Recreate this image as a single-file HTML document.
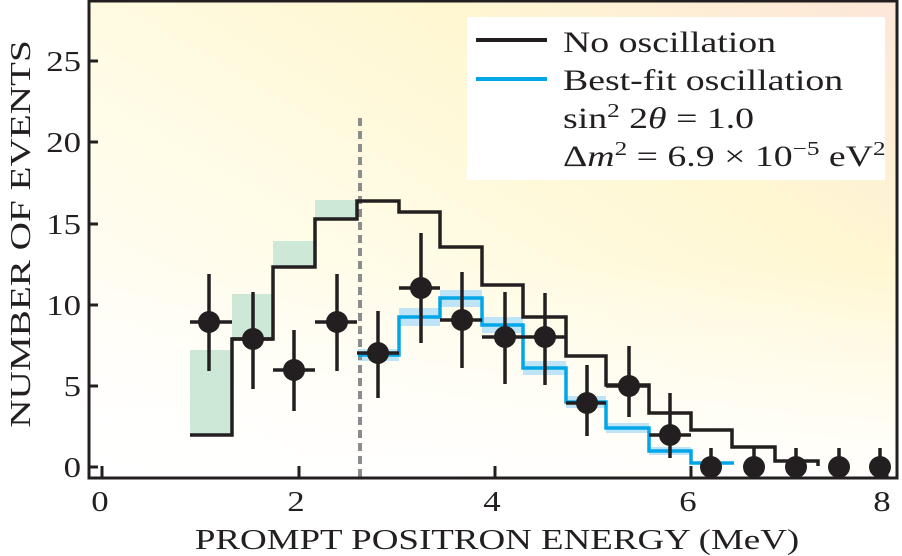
<!DOCTYPE html>
<html><head><meta charset="utf-8"><style>
html,body{margin:0;padding:0;background:#fff;width:902px;height:556px;overflow:hidden}
svg text{font-family:"Liberation Serif",serif;fill:#231f20}
</style></head><body>
<svg width="902" height="556" viewBox="0 0 902 556" xmlns="http://www.w3.org/2000/svg">
<defs>
<linearGradient id="bg" x1="0" y1="1" x2="1" y2="0">
<stop offset="0" stop-color="#ffffff"/>
<stop offset="0.45" stop-color="#fffbe4"/>
<stop offset="0.7" stop-color="#fff7d2"/>
<stop offset="1" stop-color="#fde6d8"/>
</linearGradient>
<linearGradient id="bg2" x1="0" y1="0" x2="0" y2="1">
<stop offset="0" stop-color="#fff" stop-opacity="0"/>
<stop offset="0.55" stop-color="#fff" stop-opacity="0"/>
<stop offset="1" stop-color="#fff" stop-opacity="0.9"/>
</linearGradient>
</defs>
<rect x="89" y="1" width="808" height="477" fill="url(#bg)"/>
<rect x="89" y="1" width="808" height="477" fill="url(#bg2)"/>
<rect x="467" y="17" width="418" height="163" fill="#fff"/>
<line x1="476" y1="40" x2="547" y2="40" stroke="#231f20" stroke-width="4"/>
<line x1="476" y1="79" x2="547" y2="79" stroke="#00a6e6" stroke-width="4"/>
<g transform="translate(563,0) scale(1.26,1)">
<text x="0" y="52" font-size="30">No oscillation</text>
<text x="0" y="90" font-size="30">Best-fit oscillation</text>
<text x="0" y="128" font-size="30">sin<tspan dy="-11" font-size="20">2</tspan><tspan dy="11"> 2</tspan><tspan font-style="italic">θ</tspan> = 1.0</text>
<text x="0" y="166" font-size="30">Δ<tspan font-style="italic">m</tspan><tspan dy="-11" font-size="20">2</tspan><tspan dy="11"> = 6.9 × 10</tspan><tspan dy="-11" font-size="20">−5</tspan><tspan dy="11"> eV</tspan><tspan dy="-11" font-size="20">2</tspan></text>
</g>
<g fill="#cde8d6">
<rect x="190" y="350" width="42" height="85"/>
<rect x="232" y="294" width="41" height="45"/>
<rect x="273" y="241" width="42" height="26"/>
<rect x="315" y="200" width="43" height="19"/>
</g>
<g fill="#bfe4f7">
<rect x="358" y="349" width="41" height="12"/>
<rect x="399" y="308" width="41" height="18"/>
<rect x="440" y="290" width="42" height="17"/>
<rect x="482" y="317" width="41" height="16"/>
<rect x="523" y="361" width="43" height="14"/>
<rect x="566" y="396" width="40" height="12"/>
<rect x="606" y="423" width="43" height="10"/>
<rect x="649" y="447" width="42" height="8"/>
</g>
<line x1="360" y1="118" x2="360" y2="478" stroke="#8a8c8e" stroke-width="4" stroke-dasharray="8,5"/>
<polyline fill="none" stroke="#231f20" stroke-width="3.5" points="190,435 232,435 232,339 273,339 273,267 315,267 315,219 357,219 357,201 399,201 399,212 440,212 440,247 482,247 482,285 523,285 523,317 566,317 566,356 606,356 606,385 649,385 649,413 691,413 691,430 732,430 732,447 775,447 775,461 818,461 818,466"/>
<polyline fill="none" stroke="#00a6e6" stroke-width="3.5" points="358,355 399,355 399,317 440,317 440,298 482,298 482,325 523,325 523,368 566,368 566,402 606,402 606,428 649,428 649,451 691,451 691,463 734,463"/>
<g stroke="#231f20" stroke-width="3.5" fill="#231f20">
<line x1="190" y1="322" x2="232" y2="322"/><line x1="209" y1="274" x2="209" y2="371"/><circle cx="209" cy="322" r="11" stroke="none"/>
<line x1="232" y1="339" x2="273" y2="339"/><line x1="253" y1="292" x2="253" y2="389"/><circle cx="253" cy="339" r="11" stroke="none"/>
<line x1="273" y1="370" x2="315" y2="370"/><line x1="294" y1="330" x2="294" y2="411"/><circle cx="294" cy="370" r="11" stroke="none"/>
<line x1="315" y1="322" x2="357" y2="322"/><line x1="337" y1="274" x2="337" y2="371"/><circle cx="337" cy="322" r="11" stroke="none"/>
<line x1="357" y1="353" x2="399" y2="353"/><line x1="378" y1="311" x2="378" y2="398"/><circle cx="378" cy="353" r="11" stroke="none"/>
<line x1="399" y1="288" x2="440" y2="288"/><line x1="421" y1="233" x2="421" y2="343"/><circle cx="421" cy="288" r="11" stroke="none"/>
<line x1="440" y1="320" x2="482" y2="320"/><line x1="462" y1="272" x2="462" y2="368"/><circle cx="462" cy="320" r="11" stroke="none"/>
<line x1="482" y1="337" x2="523" y2="337"/><line x1="505" y1="292" x2="505" y2="384"/><circle cx="505" cy="337" r="11" stroke="none"/>
<line x1="523" y1="337" x2="566" y2="337"/><line x1="545" y1="293" x2="545" y2="385"/><circle cx="545" cy="337" r="11" stroke="none"/>
<line x1="566" y1="403" x2="606" y2="403"/><line x1="587" y1="365" x2="587" y2="436"/><circle cx="587" cy="403" r="11" stroke="none"/>
<line x1="606" y1="386" x2="649" y2="386"/><line x1="629" y1="346" x2="629" y2="417"/><circle cx="629" cy="386" r="11" stroke="none"/>
<line x1="649" y1="435" x2="691" y2="435"/><line x1="670" y1="393" x2="670" y2="458"/><circle cx="670" cy="435" r="11" stroke="none"/>
<line x1="711" y1="448" x2="711" y2="467"/><circle cx="711" cy="467" r="11" stroke="none"/>
<line x1="754" y1="448" x2="754" y2="467"/><circle cx="754" cy="467" r="11" stroke="none"/>
<line x1="796" y1="448" x2="796" y2="467"/><circle cx="796" cy="467" r="11" stroke="none"/>
<line x1="839" y1="448" x2="839" y2="467"/><circle cx="839" cy="467" r="11" stroke="none"/>
<line x1="880" y1="448" x2="880" y2="467"/><circle cx="880" cy="467" r="11" stroke="none"/>
</g>
<rect x="89" y="1" width="808" height="477" fill="none" stroke="#231f20" stroke-width="3"/>
<g stroke="#231f20" stroke-width="3">
<line x1="89" y1="467" x2="98" y2="467"/><line x1="89" y1="386" x2="98" y2="386"/><line x1="89" y1="305" x2="98" y2="305"/><line x1="89" y1="224" x2="98" y2="224"/><line x1="89" y1="142" x2="98" y2="142"/><line x1="89" y1="61" x2="98" y2="61"/>
<line x1="102" y1="478" x2="102" y2="466"/><line x1="299" y1="478" x2="299" y2="466"/><line x1="495" y1="478" x2="495" y2="466"/><line x1="691" y1="478" x2="691" y2="466"/><line x1="887" y1="478" x2="887" y2="466"/>
</g>
<g font-size="29" text-anchor="end">
<g transform="translate(81,0) scale(1.2,1)">
<text x="0" y="477">0</text><text x="0" y="396">5</text><text x="0" y="315">10</text><text x="0" y="234">15</text><text x="0" y="152">20</text><text x="0" y="71">25</text>
</g>
</g>
<g font-size="29" text-anchor="middle">
<text x="100" y="511" transform="translate(100,0) scale(1.2,1) translate(-100,0)">0</text>
<text x="296" y="511" transform="translate(296,0) scale(1.2,1) translate(-296,0)">2</text>
<text x="492" y="511" transform="translate(492,0) scale(1.2,1) translate(-492,0)">4</text>
<text x="688" y="511" transform="translate(688,0) scale(1.2,1) translate(-688,0)">6</text>
<text x="882" y="511" transform="translate(882,0) scale(1.2,1) translate(-882,0)">8</text>
</g>
<text x="0" y="0" font-size="28" text-anchor="middle" transform="translate(497,549) scale(1.32,1)">PROMPT POSITRON ENERGY (MeV)</text>
<text x="0" y="0" font-size="28" text-anchor="middle" transform="translate(30,234) rotate(-90) scale(1.4,1)">NUMBER OF EVENTS</text>
</svg>
</body></html>
